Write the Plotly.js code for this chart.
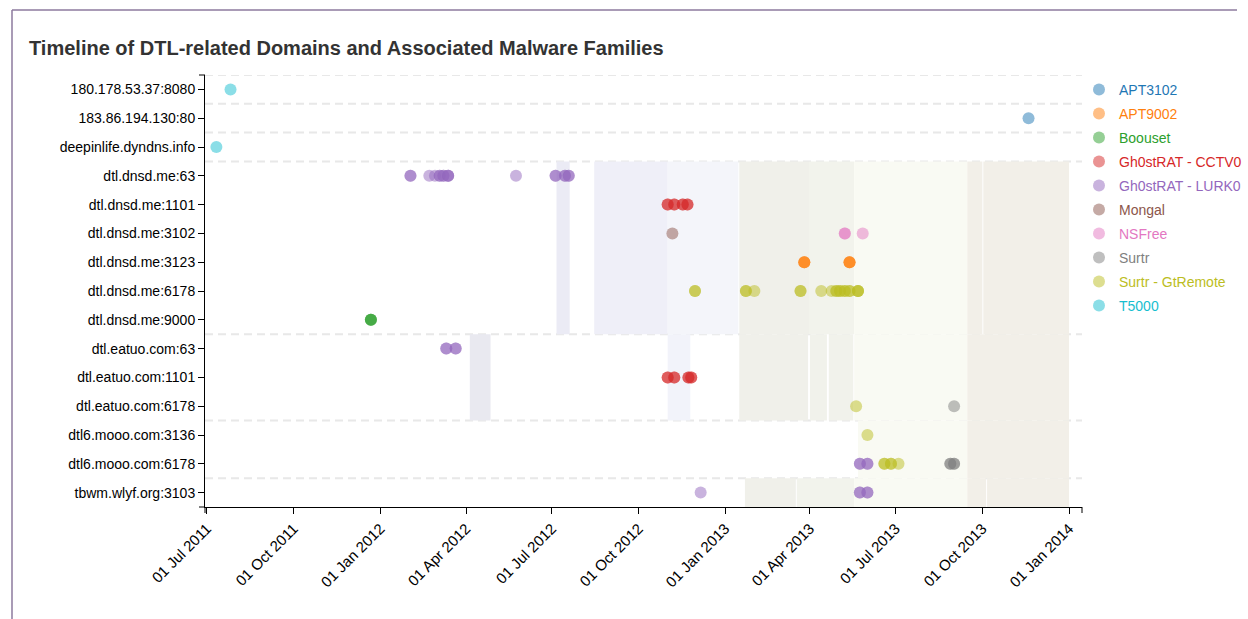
<!DOCTYPE html>
<html>
<head>
<meta charset="utf-8">
<script src="https://cdn.plot.ly/plotly-3.0.1.min.js"></script>
<style>
html,body{margin:0;padding:0;background:#fff;}
#chart{width:1248px;height:619px;}
</style>
</head>
<body>
<div id="chart"></div>
<script>
// ---------------- DATA ----------------
const domains = [
  "180.178.53.37:8080", "183.86.194.130:80", "deepinlife.dyndns.info",
  "dtl.dnsd.me:63", "dtl.dnsd.me:1101", "dtl.dnsd.me:3102", "dtl.dnsd.me:3123",
  "dtl.dnsd.me:6178", "dtl.dnsd.me:9000", "dtl.eatuo.com:63", "dtl.eatuo.com:1101",
  "dtl.eatuo.com:6178", "dtl6.mooo.com:3136", "dtl6.mooo.com:6178", "tbwm.wlyf.org:3103"
];

const families = [
  "APT3102", "APT9002", "Boouset", "Gh0stRAT - CCTV0", "Gh0stRAT - LURK0",
  "Mongal", "NSFree", "Surtr", "Surtr - GtRemote", "T5000"
];
const familyColors = [
  "#1f77b4", "#ff7f0e", "#2ca02c", "#d62728", "#9467bd",
  "#8c564b", "#e377c2", "#7f7f7f", "#bcbd22", "#17becf"
];

// observations: domain, date, family, number of stacked records
const eventDomain = [
  "180.178.53.37:8080", "deepinlife.dyndns.info", "183.86.194.130:80", "dtl.dnsd.me:9000",
  "dtl.dnsd.me:63", "dtl.dnsd.me:63", "dtl.dnsd.me:63", "dtl.dnsd.me:63", "dtl.dnsd.me:63",
  "dtl.dnsd.me:63", "dtl.dnsd.me:63", "dtl.dnsd.me:63", "dtl.dnsd.me:63", "dtl.dnsd.me:63",
  "dtl.eatuo.com:63", "dtl.eatuo.com:63",
  "dtl6.mooo.com:6178", "dtl6.mooo.com:6178",
  "tbwm.wlyf.org:3103", "tbwm.wlyf.org:3103", "tbwm.wlyf.org:3103",
  "dtl.dnsd.me:1101", "dtl.dnsd.me:1101", "dtl.dnsd.me:1101", "dtl.dnsd.me:1101",
  "dtl.eatuo.com:1101", "dtl.eatuo.com:1101", "dtl.eatuo.com:1101", "dtl.eatuo.com:1101",
  "dtl.dnsd.me:3102",
  "dtl.dnsd.me:3102", "dtl.dnsd.me:3102",
  "dtl.dnsd.me:3123", "dtl.dnsd.me:3123",
  "dtl.dnsd.me:6178", "dtl.dnsd.me:6178", "dtl.dnsd.me:6178", "dtl.dnsd.me:6178",
  "dtl.dnsd.me:6178", "dtl.dnsd.me:6178", "dtl.dnsd.me:6178", "dtl.dnsd.me:6178",
  "dtl.dnsd.me:6178", "dtl.dnsd.me:6178", "dtl.dnsd.me:6178",
  "dtl.eatuo.com:6178", "dtl6.mooo.com:3136",
  "dtl6.mooo.com:6178", "dtl6.mooo.com:6178", "dtl6.mooo.com:6178",
  "dtl.eatuo.com:6178", "dtl6.mooo.com:6178", "dtl6.mooo.com:6178"
];
const eventDate = [
  "2011-07-26", "2011-07-11", "2013-11-19", "2011-12-22",
  "2012-02-02", "2012-02-22", "2012-02-28", "2012-03-04", "2012-03-08",
  "2012-03-13", "2012-05-24", "2012-07-05", "2012-07-15", "2012-07-19",
  "2012-03-11", "2012-03-21",
  "2013-05-24", "2013-06-01",
  "2012-12-06", "2013-05-24", "2013-06-01",
  "2012-11-01", "2012-11-08", "2012-11-17", "2012-11-22",
  "2012-11-01", "2012-11-08", "2012-11-23", "2012-11-26",
  "2012-11-06",
  "2013-05-08", "2013-05-27",
  "2013-03-26", "2013-05-13",
  "2012-11-30", "2013-01-23", "2013-02-01", "2013-03-22",
  "2013-04-13", "2013-04-24", "2013-04-29", "2013-05-03",
  "2013-05-08", "2013-05-13", "2013-05-22",
  "2013-05-20", "2013-06-01",
  "2013-06-19", "2013-06-26", "2013-07-04",
  "2013-09-01", "2013-08-28", "2013-09-01"
];
const eventFamily = [
  "T5000", "T5000", "APT3102", "Boouset",
  "Gh0stRAT - LURK0", "Gh0stRAT - LURK0", "Gh0stRAT - LURK0", "Gh0stRAT - LURK0", "Gh0stRAT - LURK0",
  "Gh0stRAT - LURK0", "Gh0stRAT - LURK0", "Gh0stRAT - LURK0", "Gh0stRAT - LURK0", "Gh0stRAT - LURK0",
  "Gh0stRAT - LURK0", "Gh0stRAT - LURK0",
  "Gh0stRAT - LURK0", "Gh0stRAT - LURK0",
  "Gh0stRAT - LURK0", "Gh0stRAT - LURK0", "Gh0stRAT - LURK0",
  "Gh0stRAT - CCTV0", "Gh0stRAT - CCTV0", "Gh0stRAT - CCTV0", "Gh0stRAT - CCTV0",
  "Gh0stRAT - CCTV0", "Gh0stRAT - CCTV0", "Gh0stRAT - CCTV0", "Gh0stRAT - CCTV0",
  "Mongal",
  "NSFree", "NSFree",
  "APT9002", "APT9002",
  "Surtr - GtRemote", "Surtr - GtRemote", "Surtr - GtRemote", "Surtr - GtRemote",
  "Surtr - GtRemote", "Surtr - GtRemote", "Surtr - GtRemote", "Surtr - GtRemote",
  "Surtr - GtRemote", "Surtr - GtRemote", "Surtr - GtRemote",
  "Surtr - GtRemote", "Surtr - GtRemote",
  "Surtr - GtRemote", "Surtr - GtRemote", "Surtr - GtRemote",
  "Surtr", "Surtr", "Surtr"
];
const eventCount = [
  1, 1, 1, 3,
  2, 1, 1, 2, 2,
  3, 1, 2, 2, 2,
  2, 2,
  2, 2,
  1, 2, 2,
  2, 2, 2, 2,
  2, 2, 2, 2,
  1,
  2, 1,
  3, 3,
  2, 2, 1, 2,
  1, 1, 2, 2,
  2, 2, 3,
  1, 1,
  2, 2, 1,
  1, 2, 2
];

// shaded periods per domain group
const periodGroup = [
  "dtl.dnsd.me", "dtl.dnsd.me", "dtl.dnsd.me", "dtl.dnsd.me", "dtl.dnsd.me", "dtl.dnsd.me",
  "dtl.dnsd.me", "dtl.dnsd.me",
  "dtl.eatuo.com", "dtl.eatuo.com", "dtl.eatuo.com", "dtl.eatuo.com", "dtl.eatuo.com",
  "dtl.eatuo.com", "dtl.eatuo.com",
  "dtl6.mooo.com", "dtl6.mooo.com",
  "tbwm.wlyf.org", "tbwm.wlyf.org", "tbwm.wlyf.org", "tbwm.wlyf.org", "tbwm.wlyf.org"
];
const periodStart = [
  "2012-07-06", "2012-08-15", "2012-11-01", "2013-01-16", "2013-03-31", "2013-05-18",
  "2013-09-15", "2013-10-02",
  "2012-04-05", "2012-11-01", "2013-01-16", "2013-04-01", "2013-04-21",
  "2013-05-18", "2013-09-15",
  "2013-05-22", "2013-09-15",
  "2013-01-22", "2013-03-18", "2013-05-18", "2013-09-15", "2013-10-06"
];
const periodEnd = [
  "2012-07-20", "2012-11-01", "2013-01-15", "2013-03-31", "2013-05-18", "2013-09-15",
  "2013-10-01", "2014-01-01",
  "2012-04-27", "2012-11-25", "2013-03-30", "2013-04-19", "2013-05-17",
  "2013-09-15", "2014-01-01",
  "2013-09-15", "2014-01-01",
  "2013-03-17", "2013-05-18", "2013-09-15", "2013-10-05", "2014-01-01"
];
const periodColor = [
  "#ebebf5", "#efeff8", "#f4f5fa", "#f0f0ea", "#f2f3ec", "#f9faf3",
  "#f2efe8", "#f2efe8",
  "#e9e9f0", "#f2f3fa", "#f0f0ea", "#f1f2eb", "#f1f2eb",
  "#f9faf3", "#f2efe8",
  "#f9faf3", "#f2efe8",
  "#f0f0ea", "#f2f3ec", "#f9faf3", "#f2efe8", "#f2efe8"
];

const xTicks = ["2011-07-01", "2011-10-01", "2012-01-01", "2012-04-01", "2012-07-01", "2012-10-01",
  "2013-01-01", "2013-04-01", "2013-07-01", "2013-10-01", "2014-01-01"];
const xRange = ["2011-06-28 22:00", "2014-01-14 18:00"];

// ---------------- BUILD ----------------
const groupOf = d => d.replace(/:\d+$/, "");

const traces = families.map((fam, fi) => {
  const xs = [], ys = [];
  eventFamily.forEach((f, i) => {
    if (f !== fam) return;
    for (let k = 0; k < eventCount[i]; k++) { xs.push(eventDate[i]); ys.push(eventDomain[i]); }
  });
  return {
    type: "scatter", mode: "markers", x: xs, y: ys,
    name: '<span style="color:' + familyColors[fi] + '">' + fam + '</span>',
    legendgroup: "g" + fi,
    marker: { color: familyColors[fi], size: 12, opacity: 0.5, line: { width: 0 } },
    hoverinfo: "x+y", showlegend: true
  };
});

const shapes = [];
// group extents
const groups = [];
domains.forEach((d, i) => {
  const g = groupOf(d);
  const last = groups[groups.length - 1];
  if (last && last.name === g) last.end = i; else groups.push({ name: g, start: i, end: i });
});
periodGroup.forEach((g, i) => {
  const grp = groups.find(o => o.name === g);
  shapes.push({
    type: "rect", layer: "below", xref: "x", yref: "y",
    x0: periodStart[i], x1: periodEnd[i], y0: grp.start - 0.5, y1: grp.end + 0.5,
    fillcolor: periodColor[i], line: { width: 0 }
  });
});
// dashed separators at the top of each group
groups.forEach(g => {
  shapes.push({
    type: "line", layer: "below", xref: "paper", yref: "y", x0: 0, x1: 1,
    y0: g.start - 0.5, y1: g.start - 0.5,
    line: { color: "#e8e8e8", width: 2, dash: "8px,5px" }
  });
});
// outer (domain) ticks of the axes, D3-style
const W = 877, H = 432;
shapes.push({ type: "line", xref: "paper", yref: "paper", x0: 0, x1: -6 / W, y0: 1, y1: 1, line: { color: "#000", width: 1 } });
shapes.push({ type: "line", xref: "paper", yref: "paper", x0: 0, x1: -6 / W, y0: 0, y1: 0, line: { color: "#000", width: 1 } });
shapes.push({ type: "line", xref: "paper", yref: "paper", x0: 0, x1: 0, y0: 0, y1: -6 / H, line: { color: "#000", width: 1 } });
shapes.push({ type: "line", xref: "paper", yref: "paper", x0: 1, x1: 1, y0: 0, y1: -6 / H, line: { color: "#000", width: 1 } });
// page frame
shapes.push({ type: "line", xref: "paper", yref: "paper", x0: (12 - 205) / W, x1: (1237 - 205) / W, y0: (507 - 10) / H, y1: (507 - 10) / H, line: { color: "#8c7a9e", width: 1.5 } });
shapes.push({ type: "line", xref: "paper", yref: "paper", x0: (12 - 205) / W, x1: (12 - 205) / W, y0: (507 - 10) / H, y1: (507 - 625) / H, line: { color: "#8c7a9e", width: 1.5 } });

const layout = {
  width: 1248, height: 619,
  margin: { l: 205, r: 166, t: 75, b: 112, autoexpand: false },
  paper_bgcolor: "#fff", plot_bgcolor: "rgba(0,0,0,0)",
  font: { family: "Liberation Sans, Arial, sans-serif", size: 14, color: "#000" },
  title: {
    text: "<b>Timeline of DTL-related Domains and Associated Malware Families</b>",
    xref: "container", yref: "container", x: 29 / 1248, xanchor: "left",
    y: 1 - 48 / 619, yanchor: "middle",
    font: { size: 20, color: "#333", family: "Liberation Sans, Arial, sans-serif" }
  },
  xaxis: {
    type: "date", range: xRange, tickvals: xTicks, tickformat: "%d %b %Y", tickangle: -45,
    ticks: "outside", ticklen: 6, tickcolor: "#000", tickwidth: 1,
    showline: true, linecolor: "#000", linewidth: 1, showgrid: false, zeroline: false,
    tickfont: { size: 15, color: "#000" }, fixedrange: true
  },
  yaxis: {
    type: "category", categoryorder: "array", categoryarray: domains,
    range: [domains.length - 0.5, -0.5],
    ticks: "outside", ticklen: 6, tickcolor: "#000", tickwidth: 1,
    showline: true, linecolor: "#000", linewidth: 1, showgrid: false, zeroline: false,
    tickfont: { size: 14, color: "#000" }, fixedrange: true
  },
  legend: {
    x: (1079 - 205) / W, xanchor: "left", y: (507 - 74) / H, yanchor: "top",
    tracegroupgap: 2.8,
    font: { size: 14 }, bgcolor: "rgba(0,0,0,0)", itemclick: false, itemdoubleclick: false
  },
  shapes: shapes,
  showlegend: true
};

Plotly.newPlot("chart", traces, layout, { displayModeBar: false, staticPlot: true });
</script>
</body>
</html>
